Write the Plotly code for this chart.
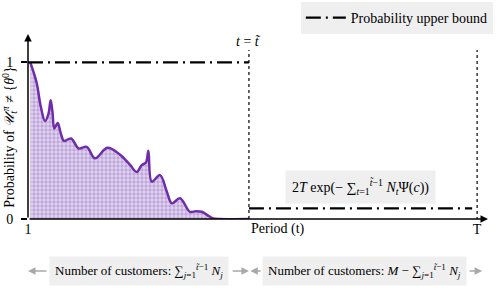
import plotly.graph_objects as go

# ---- data ----
T_END = 100
T_TILDE = 49.7
curve_t = [1.5, 2.9, 3.8, 4.75, 5.5, 6.0, 6.4, 6.8, 7.55, 8.2, 8.94, 10.48, 12.18, 13.94,
           15.77, 18.49, 21.3, 23.5, 24.97, 26.07, 27.0, 27.53, 28.28, 30.1, 31.6, 32.7,
           34.5, 36.7, 38.0, 39.3, 40.8, 41.8, 43.3, 49.7]
curve_p = [1.0, 0.87, 0.72, 0.626, 0.67, 0.758, 0.68, 0.578, 0.613, 0.55, 0.498, 0.514, 0.45, 0.46,
           0.387, 0.454, 0.41, 0.345, 0.30, 0.344, 0.36, 0.435, 0.238, 0.28, 0.174, 0.10,
           0.132, 0.046, 0.05, 0.046, 0.02, 0.004, 0.0, 0.0]
bound_high = 1.0
bound_low = 0.068
bound_low_end = 98.9
x_tickvals = [1, T_END]
x_ticktext = ["1", "T"]
y_tickvals = [0, 1]
y_ticktext = ["0", "1"]

FONT = "Liberation Serif"
FS = 14
PURPLE = "#6f2da8"
GRAY_BG = "#efefef"
ARROW = "#a8a8a8"

fig = go.Figure()

fig.add_trace(go.Scatter(
    x=curve_t, y=curve_p, mode="lines",
    line=dict(color=PURPLE, width=2.5, shape="spline", smoothing=1.0),
    fill="tozeroy",
    fillpattern=dict(shape=".", fgcolor="#9c77c8", bgcolor="#e2d6ef", size=4, solidity=0.55),
    showlegend=False, hoverinfo="skip",
))

fig.add_trace(go.Scatter(
    x=[1, T_TILDE, None, T_TILDE, bound_low_end],
    y=[bound_high, bound_high, None, bound_low, bound_low],
    mode="lines", name="Probability upper bound",
    line=dict(color="black", width=2.2, dash="15px,5px,2px,5px"),
))

# dotted vertical lines
fig.add_shape(type="line", xref="x", yref="y", x0=T_TILDE, x1=T_TILDE, y0=0, y1=1.078,
              line=dict(color="black", width=1.2, dash="dot"))
fig.add_shape(type="line", xref="x", yref="y", x0=T_END, x1=T_END, y0=-0.045, y1=1.078,
              line=dict(color="black", width=1.2, dash="dot"))

# axes arrows
fig.add_annotation(x=102.4, y=0, ax=1, ay=0, xref="x", yref="y", axref="x", ayref="y",
                   text="", showarrow=True, arrowhead=2, arrowsize=1, arrowwidth=1.5, arrowcolor="black")
fig.add_annotation(x=1, y=1.18, ax=1, ay=0, xref="x", yref="y", axref="x", ayref="y",
                   text="", showarrow=True, arrowhead=2, arrowsize=1, arrowwidth=1.5, arrowcolor="black")

# labels
fig.add_annotation(x=T_TILDE, y=1.13, xref="x", yref="y", showarrow=False,
                   text="<i>t</i> = <i>t̃</i>", font=dict(family=FONT, size=FS, color="black"))
fig.add_annotation(x=56.1, y=0, xref="x", yref="y", yshift=-10, showarrow=False,
                   text="Period (t)", font=dict(family=FONT, size=FS, color="black"))
fig.add_annotation(x=74.3, y=0.207, xref="x", yref="y", showarrow=False,
                   xanchor="center", yanchor="middle",
                   text="2<i>T</i> exp(− ∑<sub><i>t</i>=1</sub><sup><i>t̃</i>−1</sup> <i>N<sub>t</sub></i>Ψ(<i>c</i>))",
                   bgcolor=GRAY_BG, borderpad=6,
                   font=dict(family=FONT, size=FS, color="black"))
fig.add_annotation(x=-0.039, y=0.374, xref="paper", yref="paper", showarrow=False, textangle=-90,
                   xanchor="center", yanchor="middle",
                   text="Probability of <i>𝒰</i><sub><i>t</i></sub><sup><i>π</i></sup> ≠ {<i>θ</i><sup>0</sup>}",
                   font=dict(family=FONT, size=FS, color="black"))

# bottom customer-count boxes
YB = -0.237
fig.add_annotation(x=25.5, y=YB, xref="x", yref="paper", showarrow=False,
                   xanchor="center", yanchor="middle",
                   text="Number of customers: ∑<sub><i>j</i>=1</sub><sup><i>t̃</i>−1</sup> <i>N<sub>j</sub></i>",
                   bgcolor=GRAY_BG, borderpad=5, font=dict(family=FONT, size=13, color="black"))
fig.add_annotation(x=75.2, y=YB, xref="x", yref="paper", showarrow=False,
                   xanchor="center", yanchor="middle",
                   text="Number of customers: <i>M</i> − ∑<sub><i>j</i>=1</sub><sup><i>t̃</i>−1</sup> <i>N<sub>j</sub></i>",
                   bgcolor=GRAY_BG, borderpad=5, font=dict(family=FONT, size=13, color="black"))
for head, tail in [(1.0, 5.4), (T_TILDE, 45.8), (T_TILDE + 0.3, 52.6), (101.1, 98.0)]:
    fig.add_annotation(x=head, y=YB, xref="x", yref="paper", ax=tail, ay=0, axref="x", ayref="pixel",
                       text="", showarrow=True, arrowhead=2, arrowsize=1, arrowwidth=1.5,
                       arrowcolor=ARROW)

fig.update_layout(
    width=498, height=304,
    margin=dict(l=28, r=0, t=0, b=85, autoexpand=False),
    paper_bgcolor="white", plot_bgcolor="white",
    font=dict(family=FONT, size=FS, color="black"),
    legend=dict(x=0.989, y=0.991, xanchor="right", yanchor="top", bgcolor=GRAY_BG,
                font=dict(family=FONT, size=FS), itemwidth=40),
    xaxis=dict(range=[1, 104.6], showgrid=False, zeroline=False, showline=False,
               tickvals=x_tickvals, ticktext=x_ticktext, ticks="", tickfont=dict(size=FS)),
    yaxis=dict(range=[0, 1.3976], showgrid=False, zeroline=False, showline=False,
               tickvals=y_tickvals, ticktext=y_ticktext, ticks="outside", ticklen=6,
               tickwidth=1.5, tickcolor="black", tickfont=dict(size=FS), ticklabelstandoff=5),
)

fig.write_html("out.html", post_script="document.body.style.margin='0';",
               config={"displayModeBar": False})
